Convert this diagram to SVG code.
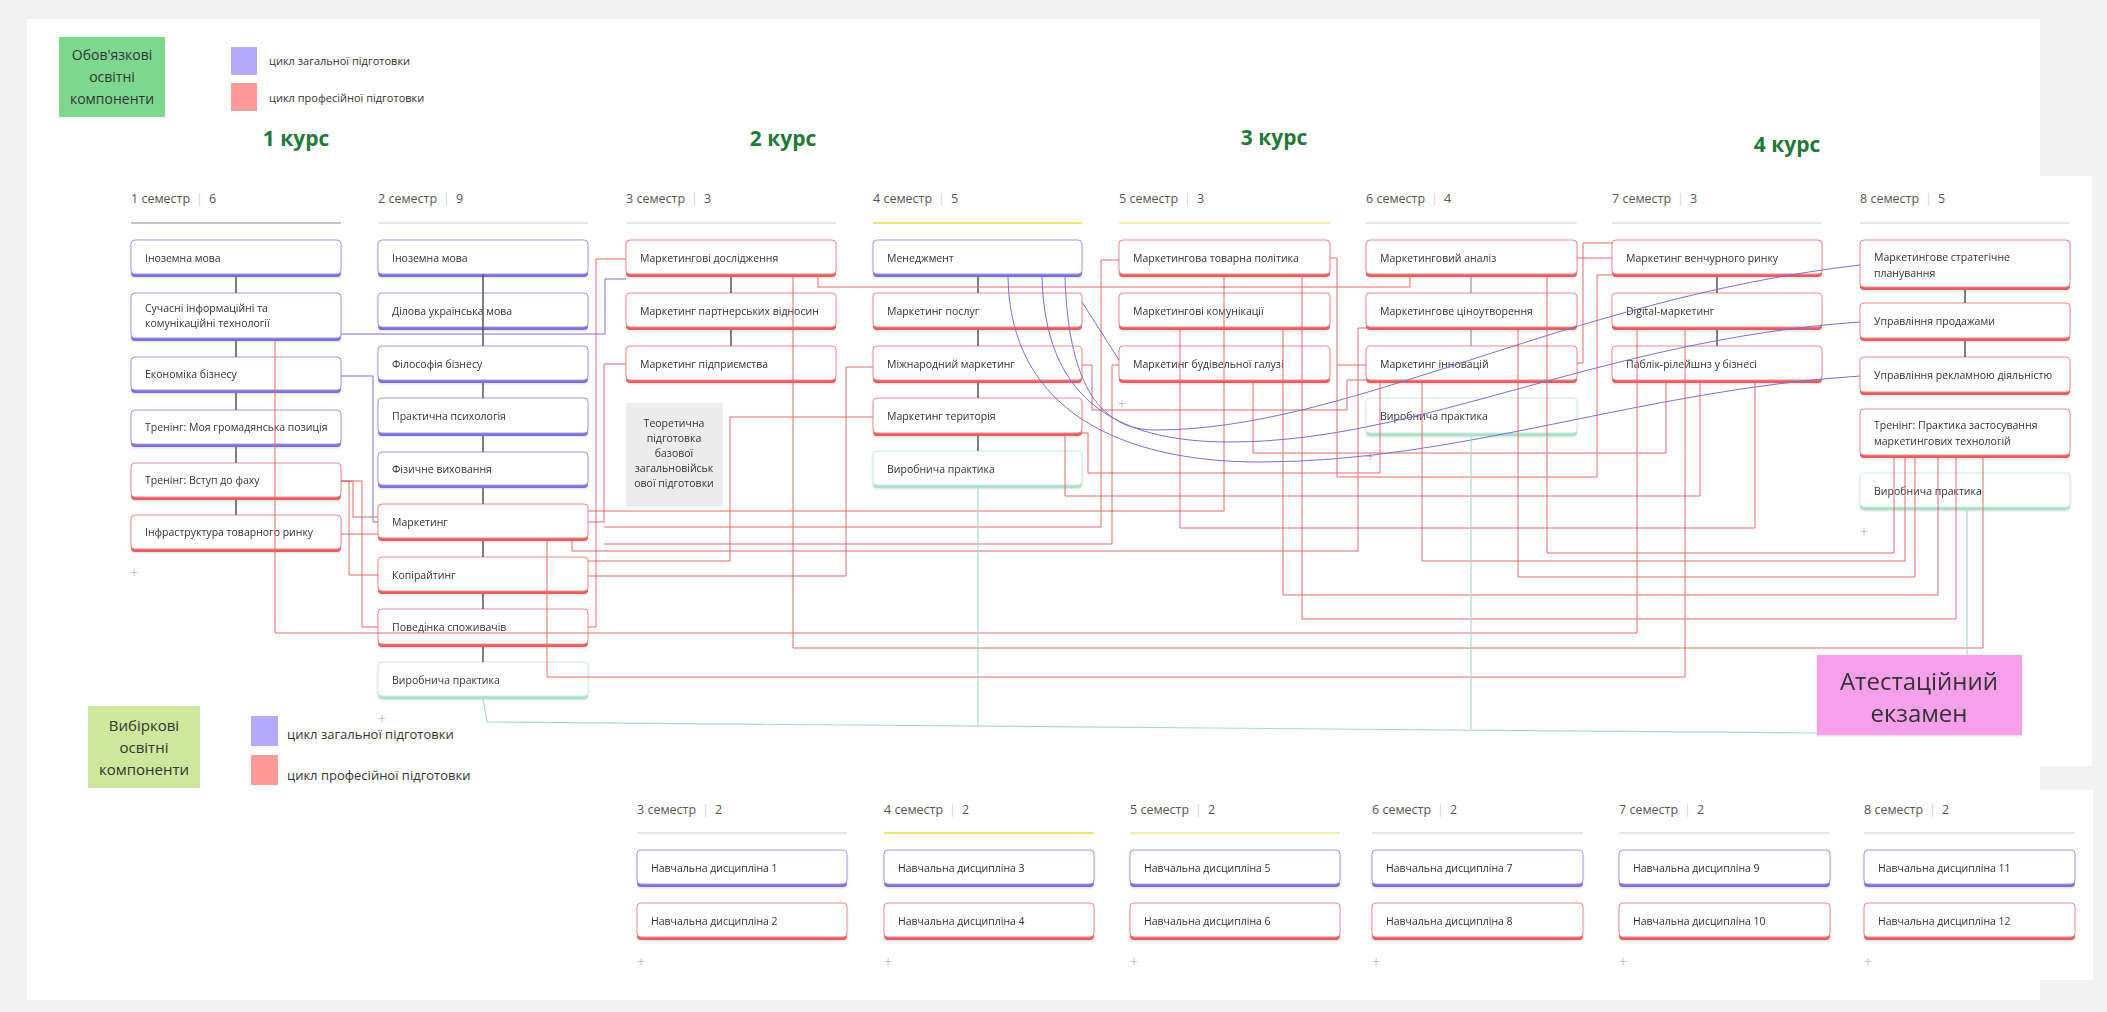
<svg xmlns="http://www.w3.org/2000/svg" width="2107" height="1012" viewBox="0 0 2107 1012">
<defs>
<filter id="sh" x="-5%" y="-20%" width="110%" height="150%"><feDropShadow dx="0" dy="1" stdDeviation="1" flood-color="#000" flood-opacity="0.15"/></filter>
<style>
.bp{fill:#7d70d9}.br{fill:#e85c5c}.bg{fill:#a6e3c8}
.fp{fill:#fff;stroke:#a39ae2;stroke-width:1}
.fr{fill:#fff;stroke:#ee8c8c;stroke-width:1}
.fg{fill:#fff;stroke:#c8eede;stroke-width:1}
.t{font-family:"Open Sans","Noto Sans",sans-serif;font-size:10.5px;fill:#333}
.h{font-family:"Open Sans","Noto Sans",sans-serif;font-size:12.5px;fill:#555}
.sep{fill:#d0d0d0}
.lg{font-family:"Open Sans","Noto Sans",sans-serif;fill:#333}
.kurs{font-family:"Open Sans","Noto Sans",sans-serif;font-size:21px;font-weight:bold;fill:#1f7a3a;text-anchor:middle}
.plus{font-family:"Open Sans","Noto Sans",sans-serif;font-size:14px;fill:#c4c4c4}
.cr{fill:none;stroke:#e46a6a;stroke-width:1;stroke-linejoin:round}
.cp{fill:none;stroke:#7b6fd6;stroke-width:1}
.cg{fill:none;stroke:#a6dcc6;stroke-width:1.2}
.ck{fill:none;stroke:#555;stroke-width:1.5}
.hl{stroke-width:2;fill:none}
</style>
</defs>
<rect width="2107" height="1012" fill="#f2f2f2"/>
<rect x="27" y="19" width="2013" height="981" fill="#fff"/>
<rect x="2040" y="176" width="52" height="590" fill="#fff"/>
<rect x="2040" y="790" width="53" height="190" fill="#fff"/>

<g id="legend-top">
<rect x="59" y="37" width="106" height="80" fill="#7dd88f"/>
<text class="lg" font-size="14" text-anchor="middle" x="112" y="60">Обов'язкові</text>
<text class="lg" font-size="14" text-anchor="middle" x="112" y="82">освітні</text>
<text class="lg" font-size="14" text-anchor="middle" x="112" y="104">компоненти</text>
<rect x="231" y="47" width="26" height="28" fill="#b5a9fa"/>
<rect x="231" y="83" width="26" height="28" fill="#ff9a9a"/>
<text class="lg" font-size="11" x="269" y="65">цикл загальної підготовки</text>
<text class="lg" font-size="11" x="269" y="102">цикл професійної підготовки</text>
</g>
<g id="kurs">
<text class="kurs" x="296" y="146">1 курс</text>
<text class="kurs" x="783" y="146">2 курс</text>
<text class="kurs" x="1274" y="145">3 курс</text>
<text class="kurs" x="1787" y="152">4 курс</text>
</g>

<g id="headers-top">
<text class="h" x="131" y="203">1 семестр<tspan class="sep" dx="6">|</tspan><tspan dx="6">6</tspan></text>
<line class="hl" x1="131" y1="223" x2="341" y2="223" stroke="#c4c4c4"/>
<text class="h" x="378" y="203">2 семестр<tspan class="sep" dx="6">|</tspan><tspan dx="6">9</tspan></text>
<line class="hl" x1="378" y1="223" x2="588" y2="223" stroke="#e6e6e6"/>
<text class="h" x="626" y="203">3 семестр<tspan class="sep" dx="6">|</tspan><tspan dx="6">3</tspan></text>
<line class="hl" x1="626" y1="223" x2="836" y2="223" stroke="#e6e6e6"/>
<text class="h" x="873" y="203">4 семестр<tspan class="sep" dx="6">|</tspan><tspan dx="6">5</tspan></text>
<line class="hl" x1="873" y1="223" x2="1082" y2="223" stroke="#f2e46a"/>
<text class="h" x="1119" y="203">5 семестр<tspan class="sep" dx="6">|</tspan><tspan dx="6">3</tspan></text>
<line class="hl" x1="1119" y1="223" x2="1330" y2="223" stroke="#eef0a6"/>
<text class="h" x="1366" y="203">6 семестр<tspan class="sep" dx="6">|</tspan><tspan dx="6">4</tspan></text>
<line class="hl" x1="1366" y1="223" x2="1577" y2="223" stroke="#e6e6e6"/>
<text class="h" x="1612" y="203">7 семестр<tspan class="sep" dx="6">|</tspan><tspan dx="6">3</tspan></text>
<line class="hl" x1="1612" y1="223" x2="1822" y2="223" stroke="#e6e6e6"/>
<text class="h" x="1860" y="203">8 семестр<tspan class="sep" dx="6">|</tspan><tspan dx="6">5</tspan></text>
<line class="hl" x1="1860" y1="223" x2="2070" y2="223" stroke="#e6e6e6"/>
</g>

<g id="nodes" filter="url(#sh)">
<g id="s1n1"><rect class="bp" x="131" y="240" width="210" height="37" rx="4"/><rect class="fp" x="131" y="240" width="210" height="34" rx="4"/><text class="t" x="145" y="262">Іноземна мова</text></g>
<g id="s1n2"><rect class="bp" x="131" y="293" width="210" height="48" rx="4"/><rect class="fp" x="131" y="293" width="210" height="45" rx="4"/><text class="t" x="145" y="312">Сучасні інформаційні та</text><text class="t" x="145" y="327">комунікаційні технології</text></g>
<g id="s1n3"><rect class="bp" x="131" y="357" width="210" height="36" rx="4"/><rect class="fp" x="131" y="357" width="210" height="33" rx="4"/><text class="t" x="145" y="378">Економіка бізнесу</text></g>
<g id="s1n4"><rect class="bp" x="131" y="410" width="210" height="37" rx="4"/><rect class="fp" x="131" y="410" width="210" height="34" rx="4"/><text class="t" x="145" y="431">Тренінг: Моя громадянська позиція</text></g>
<g id="s1n5"><rect class="br" x="131" y="463" width="210" height="37" rx="4"/><rect class="fr" x="131" y="463" width="210" height="34" rx="4"/><text class="t" x="145" y="484">Тренінг: Вступ до фаху</text></g>
<g id="s1n6"><rect class="br" x="131" y="515" width="210" height="37" rx="4"/><rect class="fr" x="131" y="515" width="210" height="34" rx="4"/><text class="t" x="145" y="536">Інфраструктура товарного ринку</text></g>

<g id="s2n1"><rect class="bp" x="378" y="240" width="210" height="37" rx="4"/><rect class="fp" x="378" y="240" width="210" height="34" rx="4"/><text class="t" x="392" y="262">Іноземна мова</text></g>
<g id="s2n2"><rect class="bp" x="378" y="293" width="210" height="37" rx="4"/><rect class="fp" x="378" y="293" width="210" height="34" rx="4"/><text class="t" x="392" y="315">Ділова українська мова</text></g>
<g id="s2n3"><rect class="bp" x="378" y="346" width="210" height="37" rx="4"/><rect class="fp" x="378" y="346" width="210" height="34" rx="4"/><text class="t" x="392" y="368">Філософія бізнесу</text></g>
<g id="s2n4"><rect class="bp" x="378" y="398" width="210" height="38" rx="4"/><rect class="fp" x="378" y="398" width="210" height="35" rx="4"/><text class="t" x="392" y="420">Практична психологія</text></g>
<g id="s2n5"><rect class="bp" x="378" y="452" width="210" height="36" rx="4"/><rect class="fp" x="378" y="452" width="210" height="33" rx="4"/><text class="t" x="392" y="473">Фізичне виховання</text></g>
<g id="s2n6"><rect class="br" x="378" y="504" width="210" height="37" rx="4"/><rect class="fr" x="378" y="504" width="210" height="34" rx="4"/><text class="t" x="392" y="526">Маркетинг</text></g>
<g id="s2n7"><rect class="br" x="378" y="557" width="210" height="37" rx="4"/><rect class="fr" x="378" y="557" width="210" height="34" rx="4"/><text class="t" x="392" y="579">Копірайтинг</text></g>
<g id="s2n8"><rect class="br" x="378" y="609" width="210" height="38" rx="4"/><rect class="fr" x="378" y="609" width="210" height="35" rx="4"/><text class="t" x="392" y="631">Поведінка споживачів</text></g>
<g id="s2n9"><rect class="bg" x="378" y="662" width="210" height="37" rx="4"/><rect class="fg" x="378" y="662" width="210" height="34" rx="4"/><text class="t" x="392" y="684">Виробнича практика</text></g>

<g id="s3n1"><rect class="br" x="626" y="240" width="210" height="37" rx="4"/><rect class="fr" x="626" y="240" width="210" height="34" rx="4"/><text class="t" x="640" y="262">Маркетингові дослідження</text></g>
<g id="s3n2"><rect class="br" x="626" y="293" width="210" height="37" rx="4"/><rect class="fr" x="626" y="293" width="210" height="34" rx="4"/><text class="t" x="640" y="315">Маркетинг партнерських відносин</text></g>
<g id="s3n3"><rect class="br" x="626" y="346" width="210" height="37" rx="4"/><rect class="fr" x="626" y="346" width="210" height="34" rx="4"/><text class="t" x="640" y="368">Маркетинг підприємства</text></g>
<g id="s3box"><rect x="627" y="403" width="95" height="102" fill="#ececec"/><text class="t" text-anchor="middle" x="674" y="427">Теоретична</text><text class="t" text-anchor="middle" x="674" y="442">підготовка</text><text class="t" text-anchor="middle" x="674" y="457">базової</text><text class="t" text-anchor="middle" x="674" y="472">загальновійськ</text><text class="t" text-anchor="middle" x="674" y="487">ової підготовки</text></g>

<g id="s4n1"><rect class="bp" x="873" y="240" width="209" height="37" rx="4"/><rect class="fp" x="873" y="240" width="209" height="34" rx="4"/><text class="t" x="887" y="262">Менеджмент</text></g>
<g id="s4n2"><rect class="br" x="873" y="293" width="209" height="37" rx="4"/><rect class="fr" x="873" y="293" width="209" height="34" rx="4"/><text class="t" x="887" y="315">Маркетинг послуг</text></g>
<g id="s4n3"><rect class="br" x="873" y="346" width="209" height="37" rx="4"/><rect class="fr" x="873" y="346" width="209" height="34" rx="4"/><text class="t" x="887" y="368">Міжнародний маркетинг</text></g>
<g id="s4n4"><rect class="br" x="873" y="398" width="209" height="38" rx="4"/><rect class="fr" x="873" y="398" width="209" height="35" rx="4"/><text class="t" x="887" y="420">Маркетинг територія</text></g>
<g id="s4n5"><rect class="bg" x="873" y="451" width="209" height="37" rx="4"/><rect class="fg" x="873" y="451" width="209" height="34" rx="4"/><text class="t" x="887" y="473">Виробнича практика</text></g>

<g id="s5n1"><rect class="br" x="1119" y="240" width="211" height="37" rx="4"/><rect class="fr" x="1119" y="240" width="211" height="34" rx="4"/><text class="t" x="1133" y="262">Маркетингова товарна політика</text></g>
<g id="s5n2"><rect class="br" x="1119" y="293" width="211" height="37" rx="4"/><rect class="fr" x="1119" y="293" width="211" height="34" rx="4"/><text class="t" x="1133" y="315">Маркетингові комунікації</text></g>
<g id="s5n3"><rect class="br" x="1119" y="346" width="211" height="37" rx="4"/><rect class="fr" x="1119" y="346" width="211" height="34" rx="4"/><text class="t" x="1133" y="368">Маркетинг будівельної галузі</text></g>

<g id="s6n1"><rect class="br" x="1366" y="240" width="211" height="37" rx="4"/><rect class="fr" x="1366" y="240" width="211" height="34" rx="4"/><text class="t" x="1380" y="262">Маркетинговий аналіз</text></g>
<g id="s6n2"><rect class="br" x="1366" y="293" width="211" height="37" rx="4"/><rect class="fr" x="1366" y="293" width="211" height="34" rx="4"/><text class="t" x="1380" y="315">Маркетингове ціноутворення</text></g>
<g id="s6n3"><rect class="br" x="1366" y="346" width="211" height="37" rx="4"/><rect class="fr" x="1366" y="346" width="211" height="34" rx="4"/><text class="t" x="1380" y="368">Маркетинг інновацій</text></g>
<g id="s6n4"><rect class="bg" x="1366" y="398" width="211" height="38" rx="4"/><rect class="fg" x="1366" y="398" width="211" height="35" rx="4"/><text class="t" x="1380" y="420">Виробнича практика</text></g>

<g id="s7n1"><rect class="br" x="1612" y="240" width="210" height="37" rx="4"/><rect class="fr" x="1612" y="240" width="210" height="34" rx="4"/><text class="t" x="1626" y="262">Маркетинг венчурного ринку</text></g>
<g id="s7n2"><rect class="br" x="1612" y="293" width="210" height="37" rx="4"/><rect class="fr" x="1612" y="293" width="210" height="34" rx="4"/><text class="t" x="1626" y="315">Digital-маркетинг</text></g>
<g id="s7n3"><rect class="br" x="1612" y="346" width="210" height="37" rx="4"/><rect class="fr" x="1612" y="346" width="210" height="34" rx="4"/><text class="t" x="1626" y="368">Паблік-рілейшнз у бізнесі</text></g>

<g id="s8n1"><rect class="br" x="1860" y="240" width="210" height="50" rx="4"/><rect class="fr" x="1860" y="240" width="210" height="47" rx="4"/><text class="t" x="1874" y="261">Маркетингове стратегічне</text><text class="t" x="1874" y="277">планування</text></g>
<g id="s8n2"><rect class="br" x="1860" y="303" width="210" height="38" rx="4"/><rect class="fr" x="1860" y="303" width="210" height="35" rx="4"/><text class="t" x="1874" y="325">Управління продажами</text></g>
<g id="s8n3"><rect class="br" x="1860" y="357" width="210" height="38" rx="4"/><rect class="fr" x="1860" y="357" width="210" height="35" rx="4"/><text class="t" x="1874" y="379">Управління рекламною діяльністю</text></g>
<g id="s8n4"><rect class="br" x="1860" y="409" width="210" height="49" rx="4"/><rect class="fr" x="1860" y="409" width="210" height="46" rx="4"/><text class="t" x="1874" y="429">Тренінг: Практика застосування</text><text class="t" x="1874" y="445">маркетингових технологій</text></g>
<g id="s8n5"><rect class="bg" x="1860" y="473" width="210" height="37" rx="4"/><rect class="fg" x="1860" y="473" width="210" height="34" rx="4"/><text class="t" x="1874" y="495">Виробнича практика</text></g>

<g id="exam"><rect x="1817" y="655" width="205" height="80" fill="#f7a0ea"/><text class="lg" font-size="24" text-anchor="middle" x="1919" y="690">Атестаційний</text><text class="lg" font-size="24" text-anchor="middle" x="1919" y="722">екзамен</text></g>
</g>

<g id="plus-top">
<text class="plus" x="130" y="578">+</text>
<text class="plus" x="378" y="724">+</text>
<text class="plus" x="1118" y="409">+</text>
<text class="plus" x="1366" y="462">+</text>
<text class="plus" x="1860" y="537">+</text>
</g>

<g id="connectors">
<g id="chains">
<path class="ck" d="M236,277V293M236,341V357M236,393V410M236,447V463M236,500V515"/>
<path class="ck" d="M483,274V346M483,383V398M483,436V452M483,488V504M483,541V557M483,594V609M483,647V662"/>
<path class="ck" d="M731,277V293M731,330V346"/>
<path class="ck" d="M978,277V293M978,330V346M978,383V398M978,436V451"/>
<path class="ck" d="M1471,277V293M1471,330V346" stroke-opacity="0.5"/>
<path class="ck" d="M1717,277V293M1717,330V346"/>
<path class="ck" d="M1965,290V303M1965,341V357"/>
</g>
<g id="red">
<path class="cr" d="M588,627H596V259H626"/>
<path class="cr" d="M588,522H604V364H626"/>
<path class="cr" d="M588,511H1224V277"/>
<path class="cr" d="M604,527H1101V260H1119"/>
<path class="cr" d="M604,544H1112V365H1119"/>
<path class="cr" d="M572,541V551H1358V328H1366"/>
<path class="cr" d="M588,561H730V417H873"/>
<path class="cr" d="M588,576H846V367H873"/>
<path class="cr" d="M275,341V633H1637V330"/>
<path class="cr" d="M547,541V677H1685V330"/>
<path class="cr" d="M793,277V648H1983V458"/>
<path class="cr" d="M818,277V287H1410V277"/>
<path class="cr" d="M1180,330V528H1755V383"/>
<path class="cr" d="M1065,436V496H1700V383"/>
<path class="cr" d="M1253,383V453H1666V383"/>
<path class="cr" d="M1082,433H1088V473H1380V383"/>
<path class="cr" d="M1082,365H1092V410H1347V380H1366"/>
<path class="cr" d="M1330,258H1337V365H1366"/>
<path class="cr" d="M1337,365V477H1597V275H1612"/>
<path class="cr" d="M1577,258H1612"/>
<path class="cr" d="M1577,363H1583V243H1612"/>
<path class="cr" d="M1547,277V553H1894V458"/>
<path class="cr" d="M1422,383V561H1905V458"/>
<path class="cr" d="M1518,330V577H1915V458"/>
<path class="cr" d="M1283,330V595H1938V458"/>
<path class="cr" d="M1302,277V619H1956V458"/>
<path class="cr" d="M341,481H353V517H378"/>
<path class="cr" d="M341,481H349V575H378"/>
<path class="cr" d="M341,481H362V627H378"/>
<path class="cr" d="M341,534H378"/>
</g>
<g id="purple">
<path class="cp" d="M341,334H605V279H626"/>
<path class="cp" d="M341,376H373V522H378"/>
<path class="cp" d="M1082,302L1119,360"/>
<path class="cp" d="M1065,277C1068,375 1095,430 1155,430C1350,430 1560,300 1860,265"/>
<path class="cp" d="M1042,277C1045,395 1110,442 1230,442C1420,442 1600,340 1860,322"/>
<path class="cp" d="M1008,277C1010,410 1120,462 1260,462C1460,462 1640,390 1860,376"/>
</g>
<g id="green">
<path class="cg" d="M483,699L487,722L1817,733"/>
<path class="cg" d="M978,488V727"/>
<path class="cg" d="M1471,436V729"/>
<path class="cg" d="M1967,510V655"/>
</g>
</g>

<g id="legend-bottom">
<rect x="88" y="706" width="112" height="82" fill="#cde89c"/>
<text class="lg" font-size="15" text-anchor="middle" x="144" y="731">Вибіркові</text>
<text class="lg" font-size="15" text-anchor="middle" x="144" y="753">освітні</text>
<text class="lg" font-size="15" text-anchor="middle" x="144" y="775">компоненти</text>
<rect x="251" y="716" width="27" height="30" fill="#b5a9fa"/>
<rect x="251" y="755" width="27" height="30" fill="#ff9a9a"/>
<text class="lg" font-size="13" x="287" y="739">цикл загальної підготовки</text>
<text class="lg" font-size="13" x="287" y="780">цикл професійної підготовки</text>
</g>

<g id="headers-bottom">
<text class="h" x="637" y="814">3 семестр<tspan class="sep" dx="6">|</tspan><tspan dx="6">2</tspan></text>
<line class="hl" x1="637" y1="833" x2="847" y2="833" stroke="#e6e6e6"/>
<text class="h" x="884" y="814">4 семестр<tspan class="sep" dx="6">|</tspan><tspan dx="6">2</tspan></text>
<line class="hl" x1="884" y1="833" x2="1094" y2="833" stroke="#f2e46a"/>
<text class="h" x="1130" y="814">5 семестр<tspan class="sep" dx="6">|</tspan><tspan dx="6">2</tspan></text>
<line class="hl" x1="1130" y1="833" x2="1340" y2="833" stroke="#eef0a6"/>
<text class="h" x="1372" y="814">6 семестр<tspan class="sep" dx="6">|</tspan><tspan dx="6">2</tspan></text>
<line class="hl" x1="1372" y1="833" x2="1583" y2="833" stroke="#e6e6e6"/>
<text class="h" x="1619" y="814">7 семестр<tspan class="sep" dx="6">|</tspan><tspan dx="6">2</tspan></text>
<line class="hl" x1="1619" y1="833" x2="1830" y2="833" stroke="#e6e6e6"/>
<text class="h" x="1864" y="814">8 семестр<tspan class="sep" dx="6">|</tspan><tspan dx="6">2</tspan></text>
<line class="hl" x1="1864" y1="833" x2="2075" y2="833" stroke="#e6e6e6"/>
</g>

<g id="nodes-bottom" filter="url(#sh)">
<g id="e1"><rect class="bp" x="637" y="850" width="210" height="37" rx="4"/><rect class="fp" x="637" y="850" width="210" height="34" rx="4"/><text class="t" x="651" y="872">Навчальна дисципліна 1</text></g>
<g id="e2"><rect class="br" x="637" y="903" width="210" height="37" rx="4"/><rect class="fr" x="637" y="903" width="210" height="34" rx="4"/><text class="t" x="651" y="925">Навчальна дисципліна 2</text></g>
<g id="e3"><rect class="bp" x="884" y="850" width="210" height="37" rx="4"/><rect class="fp" x="884" y="850" width="210" height="34" rx="4"/><text class="t" x="898" y="872">Навчальна дисципліна 3</text></g>
<g id="e4"><rect class="br" x="884" y="903" width="210" height="37" rx="4"/><rect class="fr" x="884" y="903" width="210" height="34" rx="4"/><text class="t" x="898" y="925">Навчальна дисципліна 4</text></g>
<g id="e5"><rect class="bp" x="1130" y="850" width="210" height="37" rx="4"/><rect class="fp" x="1130" y="850" width="210" height="34" rx="4"/><text class="t" x="1144" y="872">Навчальна дисципліна 5</text></g>
<g id="e6"><rect class="br" x="1130" y="903" width="210" height="37" rx="4"/><rect class="fr" x="1130" y="903" width="210" height="34" rx="4"/><text class="t" x="1144" y="925">Навчальна дисципліна 6</text></g>
<g id="e7"><rect class="bp" x="1372" y="850" width="211" height="37" rx="4"/><rect class="fp" x="1372" y="850" width="211" height="34" rx="4"/><text class="t" x="1386" y="872">Навчальна дисципліна 7</text></g>
<g id="e8"><rect class="br" x="1372" y="903" width="211" height="37" rx="4"/><rect class="fr" x="1372" y="903" width="211" height="34" rx="4"/><text class="t" x="1386" y="925">Навчальна дисципліна 8</text></g>
<g id="e9"><rect class="bp" x="1619" y="850" width="211" height="37" rx="4"/><rect class="fp" x="1619" y="850" width="211" height="34" rx="4"/><text class="t" x="1633" y="872">Навчальна дисципліна 9</text></g>
<g id="e10"><rect class="br" x="1619" y="903" width="211" height="37" rx="4"/><rect class="fr" x="1619" y="903" width="211" height="34" rx="4"/><text class="t" x="1633" y="925">Навчальна дисципліна 10</text></g>
<g id="e11"><rect class="bp" x="1864" y="850" width="211" height="37" rx="4"/><rect class="fp" x="1864" y="850" width="211" height="34" rx="4"/><text class="t" x="1878" y="872">Навчальна дисципліна 11</text></g>
<g id="e12"><rect class="br" x="1864" y="903" width="211" height="37" rx="4"/><rect class="fr" x="1864" y="903" width="211" height="34" rx="4"/><text class="t" x="1878" y="925">Навчальна дисципліна 12</text></g>
</g>
<g id="plus-bottom">
<text class="plus" x="637" y="967">+</text>
<text class="plus" x="884" y="967">+</text>
<text class="plus" x="1130" y="967">+</text>
<text class="plus" x="1372" y="967">+</text>
<text class="plus" x="1619" y="967">+</text>
<text class="plus" x="1864" y="967">+</text>
</g>
</svg>
